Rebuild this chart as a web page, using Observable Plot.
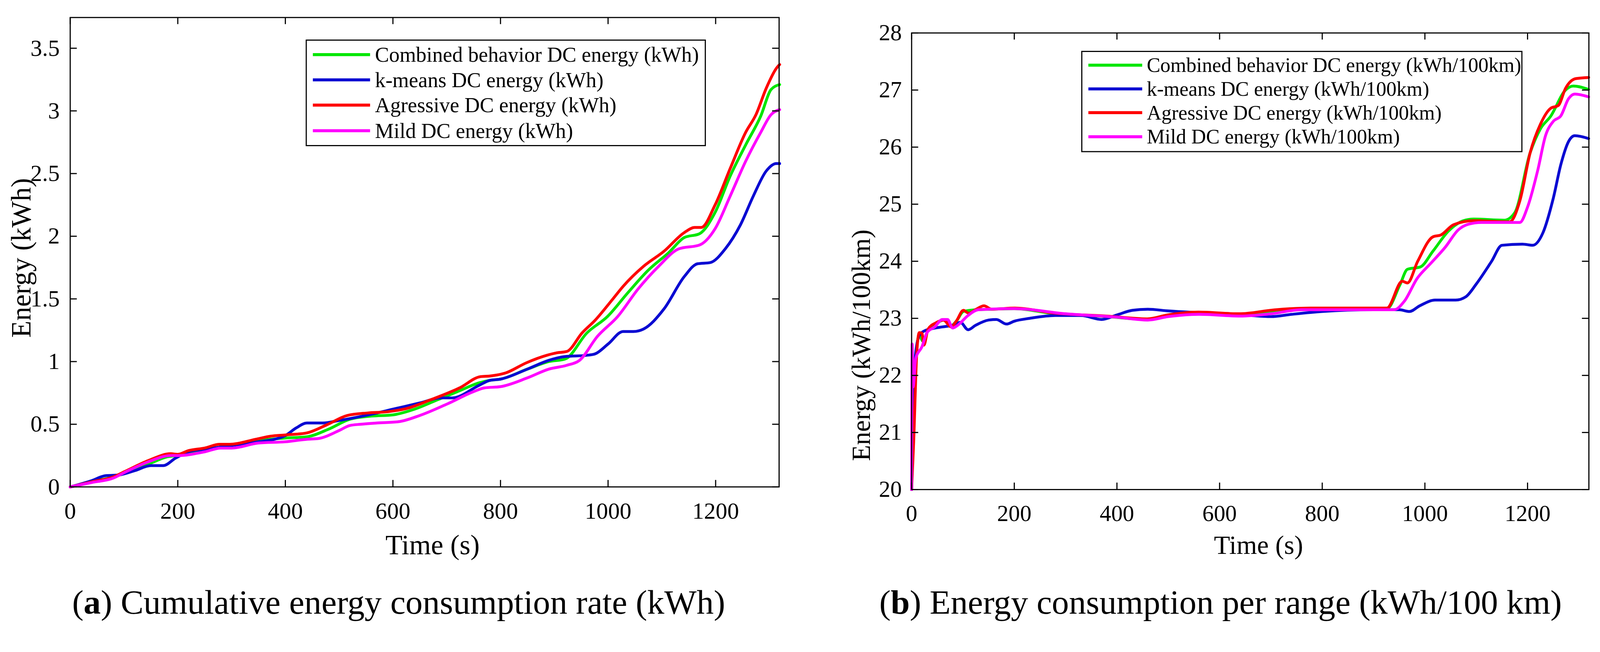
<!DOCTYPE html>
<html>
<head>
<meta charset="utf-8">
<script src="https://cdn.jsdelivr.net/npm/d3@7"></script>
<script src="https://cdn.jsdelivr.net/npm/@observablehq/plot@0.6"></script>
<style>
  html, body { margin: 0; padding: 0; background: #fff; overflow: hidden; }
  #page { position: relative; width: 4250px; height: 1668px; overflow: hidden; background: #fff;
          font-family: "Liberation Serif", "Times New Roman", serif; color: #000; transform-origin: 0 0; }
  .panel { position: absolute; top: 0; }
  .panel svg { overflow: visible; }
  .legend { position: absolute; box-sizing: border-box; border: 3px solid #000; background: #fff; }
  .sw { position: absolute; height: 7.5px; }
  .lt { position: absolute; white-space: nowrap; line-height: 1; }
  .caption { position: absolute; top: 1553px; font-size: 91px; line-height: 1; white-space: nowrap;
             transform: translateX(-50%); font-family: "Liberation Serif", "Times New Roman", serif; }
</style>
</head>
<body>
<div id="page"></div>
<script>
// ---------------- data ----------------
const seriesKeys = ["combined", "kmeans", "aggressive", "mild"];
const seriesColors = ["#00e600", "#0a0ad2", "#ff0000", "#ff00ff"];
const legendLabelsA = ["Combined behavior DC energy (kWh)", "k-means DC energy (kWh)", "Agressive DC energy (kWh)", "Mild DC energy (kWh)"];
const legendLabelsB = ["Combined behavior DC energy (kWh/100km)", "k-means DC energy (kWh/100km)", "Agressive DC energy (kWh/100km)", "Mild DC energy (kWh/100km)"];

const xTicks = [0, 200, 400, 600, 800, 1000, 1200];
const yTicksA = [0, 0.5, 1, 1.5, 2, 2.5, 3, 3.5];
const yTicksB = [20, 21, 22, 23, 24, 25, 26, 27, 28];

// (a) cumulative energy (kWh)
const cumTimeCombined = [0, 40, 80, 110, 150, 180, 200, 250, 280, 300, 350, 400, 440, 480, 520, 560, 600, 640, 680, 720, 760, 780, 800, 850, 890, 920, 961, 999, 1037, 1075, 1113, 1142, 1170, 1199, 1227, 1256, 1284, 1303, 1319];
const cumCombined = [0, 0.04, 0.08, 0.12, 0.19, 0.24, 0.25, 0.29, 0.32, 0.335, 0.37, 0.39, 0.40, 0.46, 0.54, 0.565, 0.575, 0.62, 0.69, 0.76, 0.83, 0.85, 0.86, 0.94, 1.0, 1.02, 1.23, 1.36, 1.55, 1.73, 1.87, 1.99, 2.02, 2.19, 2.48, 2.73, 2.96, 3.17, 3.21];

const cumTimeKmeans = [0, 40, 66, 90, 120, 150, 173, 196, 220, 250, 300, 350, 380, 400, 420, 440, 470, 500, 560, 600, 650, 690, 710, 760, 780, 800, 850, 890, 920, 960, 975, 1000, 1028, 1047, 1066, 1104, 1142, 1166, 1190, 1218, 1246, 1270, 1294, 1313, 1319];
const cumKmeans = [0, 0.05, 0.09, 0.095, 0.13, 0.17, 0.17, 0.23, 0.28, 0.30, 0.33, 0.36, 0.38, 0.41, 0.47, 0.51, 0.51, 0.53, 0.58, 0.62, 0.67, 0.71, 0.71, 0.81, 0.85, 0.86, 0.94, 1.01, 1.04, 1.05, 1.06, 1.14, 1.24, 1.24, 1.26, 1.42, 1.68, 1.78, 1.79, 1.90, 2.09, 2.32, 2.52, 2.58, 2.58];

const cumTimeAggressive = [0, 40, 80, 103, 145, 187, 200, 220, 250, 278, 297, 345, 373, 401, 439, 477, 515, 553, 591, 629, 667, 724, 763, 781, 810, 848, 886, 905, 923, 952, 976, 1009, 1028, 1066, 1104, 1142, 1161, 1173, 1199, 1227, 1256, 1275, 1294, 1313, 1319];
const cumAggressive = [0, 0.04, 0.08, 0.126, 0.21, 0.265, 0.26, 0.29, 0.31, 0.34, 0.34, 0.38, 0.405, 0.415, 0.43, 0.495, 0.57, 0.59, 0.60, 0.63, 0.69, 0.79, 0.88, 0.885, 0.91, 0.99, 1.05, 1.07, 1.08, 1.23, 1.33, 1.50, 1.60, 1.76, 1.88, 2.03, 2.07, 2.07, 2.25, 2.54, 2.83, 2.97, 3.18, 3.34, 3.37];

const cumTimeMild = [0, 40, 80, 103, 145, 187, 200, 250, 280, 300, 350, 400, 440, 460, 500, 520, 540, 570, 610, 650, 700, 750, 770, 800, 850, 890, 923, 947, 980, 1018, 1056, 1094, 1132, 1170, 1199, 1227, 1256, 1284, 1303, 1319];
const cumMild = [0, 0.035, 0.07, 0.12, 0.20, 0.25, 0.25, 0.28, 0.31, 0.31, 0.35, 0.36, 0.38, 0.385, 0.45, 0.49, 0.50, 0.51, 0.52, 0.57, 0.66, 0.76, 0.79, 0.80, 0.87, 0.94, 0.97, 1.01, 1.20, 1.36, 1.58, 1.76, 1.90, 1.93, 2.06, 2.32, 2.60, 2.83, 2.97, 3.01];

// (b) energy per range (kWh/100km)
const rateTimeCombined = [0, 3, 8, 15, 22, 32, 47, 62, 77, 87, 101, 126, 156, 200, 280, 380, 459, 499, 559, 638, 708, 777, 926, 951, 966, 991, 1016, 1046, 1075, 1095, 1155, 1175, 1205, 1225, 1245, 1274, 1289, 1319];
const rateCombined = [20, 21.2, 22.3, 22.7, 22.6, 22.8, 22.9, 22.97, 22.87, 22.95, 23.12, 23.15, 23.16, 23.17, 23.08, 23.03, 22.98, 23.04, 23.09, 23.07, 23.13, 23.17, 23.17, 23.58, 23.86, 23.9, 24.18, 24.53, 24.71, 24.74, 24.72, 24.85, 25.9, 26.32, 26.54, 27.0, 27.07, 27.01];

const rateTimeKmeans = [0, 3, 8, 15, 25, 40, 60, 80, 95, 110, 125, 150, 165, 185, 200, 230, 280, 330, 370, 400, 430, 460, 500, 560, 620, 660, 700, 740, 800, 900, 950, 970, 990, 1020, 1060, 1080, 1100, 1130, 1150, 1190, 1210, 1230, 1250, 1265, 1280, 1292, 1319];
const rateKmeans = [20, 21.5, 22.4, 22.7, 22.78, 22.82, 22.85, 22.88, 22.93, 22.8, 22.88, 22.97, 22.98, 22.9, 22.95, 23.0, 23.05, 23.05, 22.98, 23.06, 23.14, 23.16, 23.13, 23.1, 23.08, 23.05, 23.03, 23.07, 23.12, 23.15, 23.15, 23.12, 23.22, 23.32, 23.32, 23.38, 23.6, 24.0, 24.28, 24.3, 24.28, 24.5, 25.1, 25.7, 26.1, 26.2, 26.15];

const rateTimeAggressive = [0, 4, 10, 15, 20, 24, 32, 47, 62, 77, 87, 101, 111, 126, 141, 156, 201, 280, 380, 459, 499, 559, 638, 708, 777, 926, 956, 966, 986, 1016, 1031, 1056, 1095, 1165, 1185, 1205, 1225, 1245, 1260, 1274, 1294, 1319];
const rateAggressive = [20, 20.84, 22.39, 22.75, 22.74, 22.53, 22.81, 22.92, 22.97, 22.85, 22.95, 23.14, 23.09, 23.16, 23.22, 23.16, 23.18, 23.09, 23.04, 22.99, 23.06, 23.11, 23.08, 23.15, 23.18, 23.18, 23.65, 23.62, 24.0, 24.43, 24.46, 24.64, 24.71, 24.69, 25.06, 25.9, 26.4, 26.68, 26.73, 27.03, 27.2, 27.22];

const rateTimeMild = [0, 1, 3, 8, 20, 30, 45, 60, 70, 80, 90, 110, 130, 200, 300, 400, 460, 500, 560, 640, 700, 760, 940, 960, 985, 1010, 1040, 1065, 1085, 1110, 1185, 1200, 1220, 1235, 1250, 1265, 1280, 1292, 1319];
const rateMild = [20, 22.55, 21.8, 22.3, 22.5, 22.75, 22.85, 22.98, 22.98, 22.83, 22.88, 23.05, 23.15, 23.17, 23.08, 23.02, 22.97, 23.03, 23.07, 23.04, 23.08, 23.15, 23.15, 23.3, 23.7, 23.95, 24.25, 24.55, 24.65, 24.68, 24.68, 24.95, 25.6, 26.2, 26.45, 26.55, 26.85, 26.93, 26.88];

// ---------------- build ----------------
function toRows(times, values) {
  const out = [];
  times.forEach((ts, k) => ts.forEach((t, i) => out.push({s: seriesKeys[k], t, v: values[k][i]})));
  return out;
}

const page = document.getElementById("page");
const PAGE_W = 4250;
const PANEL_W = 2125, SVG_H = 1520;

function fitPage() {
  const vw = document.documentElement.clientWidth || window.innerWidth || PAGE_W;
  const s = vw / PAGE_W;
  page.style.transform = Math.abs(s - 1) > 0.001 ? `scale(${s})` : "none";
}
fitPage();
window.addEventListener("resize", fitPage);

function panel(cfg) {
  const mt = cfg.frame.top, mb = SVG_H - cfg.frame.bottom;
  const ml = cfg.frame.left - cfg.offset, mr = cfg.offset + PANEL_W - cfg.frame.right;
  const innerH = SVG_H - mt - mb, innerW = PANEL_W - ml - mr;
  const T = 18;
  const chart = Plot.plot({
    width: PANEL_W, height: SVG_H,
    marginTop: mt, marginBottom: mb, marginLeft: ml, marginRight: mr,
    style: {fontFamily: "Liberation Serif, Times New Roman, serif", background: "transparent", color: "#000", overflow: "visible"},
    x: {domain: cfg.xDomain},
    y: {domain: cfg.yDomain},
    color: {domain: seriesKeys, range: seriesColors},
    marks: [
      Plot.line(cfg.data, {x: "t", y: "v", z: "s", stroke: "s", strokeWidth: 7.5, curve: "monotone-x",
                           strokeLinejoin: "round", strokeLinecap: "round"}),
      Plot.frame({stroke: "#000", strokeWidth: 3}),
      Plot.tickX(xTicks, {x: d => d, insetTop: innerH - T, stroke: "#000", strokeWidth: 3}),
      Plot.tickX(xTicks, {x: d => d, insetBottom: innerH - T, stroke: "#000", strokeWidth: 3}),
      Plot.tickY(cfg.yTicks, {y: d => d, insetRight: innerW - T, stroke: "#000", strokeWidth: 3}),
      Plot.tickY(cfg.yTicks, {y: d => d, insetLeft: innerW - T, stroke: "#000", strokeWidth: 3}),
      Plot.axisX(xTicks, {tickSize: 0, tickPadding: 40, fontSize: cfg.tickFont, tickFormat: d => String(d), label: null}),
      Plot.axisY(cfg.yTicks, {tickSize: 0, tickPadding: cfg.yPad, fontSize: cfg.tickFont, tickFormat: d => String(d), label: null}),
      Plot.text([cfg.xLabel], {text: d => d, frameAnchor: "bottom", lineAnchor: "bottom", textAnchor: "middle",
                               dx: cfg.xLabelDx, dy: cfg.xLabelDy, fontSize: cfg.labelFont, fill: "#000"}),
      Plot.text([cfg.yLabel], {text: d => d, frameAnchor: "left", lineAnchor: "bottom", textAnchor: "middle", rotate: -90,
                               dx: cfg.yLabelDx, dy: cfg.yLabelDy, fontSize: cfg.labelFont, fill: "#000"})
    ]
  });
  const wrap = document.createElement("div");
  wrap.className = "panel";
  wrap.style.left = cfg.offset + "px";
  wrap.appendChild(chart);
  page.appendChild(wrap);

  // legend
  const lg = cfg.legend;
  const box = document.createElement("div");
  box.className = "legend";
  Object.assign(box.style, {left: lg.left + "px", top: lg.top + "px", width: lg.width + "px", height: lg.height + "px"});
  cfg.labels.forEach((name, i) => {
    const cy = lg.rows[i];
    const sw = document.createElement("div");
    sw.className = "sw";
    Object.assign(sw.style, {left: lg.swLeft + "px", width: lg.swWidth + "px", top: (cy - 3.75 - 3) + "px", background: seriesColors[i]});
    const tx = document.createElement("div");
    tx.className = "lt";
    tx.textContent = name;
    Object.assign(tx.style, {left: lg.textLeft + "px", top: (cy - lg.font / 2 - 3) + "px", fontSize: lg.font + "px"});
    box.appendChild(sw);
    box.appendChild(tx);
  });
  page.appendChild(box);

  // caption
  const cap = document.createElement("div");
  cap.className = "caption";
  cap.style.left = cfg.caption.center + "px";
  cap.innerHTML = "(<b>" + cfg.caption.letter + "</b>) ";
  cap.appendChild(document.createTextNode(cfg.caption.text));
  page.appendChild(cap);
}

panel({
  offset: 0,
  frame: {left: 186, right: 2069, top: 46, bottom: 1292},
  xDomain: [0, 1318], yDomain: [0, 3.745], yTicks: yTicksA,
  data: toRows([cumTimeCombined, cumTimeKmeans, cumTimeAggressive, cumTimeMild], [cumCombined, cumKmeans, cumAggressive, cumMild]),
  tickFont: 62, labelFont: 74, yPad: 28,
  xLabel: "Time (s)", xLabelDx: 21, xLabelDy: 179,
  yLabel: "Energy (kWh)", yLabelDx: -106, yLabelDy: 15,
  labels: legendLabelsA,
  legend: {left: 812, top: 105, width: 1063, height: 283, rows: [40, 107, 174, 242], swLeft: 16, swWidth: 152, textLeft: 181, font: 56},
  caption: {center: 1059, letter: "a", text: "Cumulative energy consumption rate (kWh)"}
});

panel({
  offset: 2125,
  frame: {left: 2421, right: 4220, top: 87, bottom: 1299},
  xDomain: [0, 1319.5], yDomain: [20, 28], yTicks: yTicksB,
  data: toRows([rateTimeCombined, rateTimeKmeans, rateTimeAggressive, rateTimeMild], [rateCombined, rateKmeans, rateAggressive, rateMild]),
  tickFont: 61, labelFont: 70, yPad: 26,
  xLabel: "Time (s)", xLabelDx: 22, xLabelDy: 171,
  yLabel: "Energy (kWh/100km)", yLabelDx: -111, yLabelDy: 223,
  labels: legendLabelsB,
  legend: {left: 2872, top: 135, width: 1172, height: 269, rows: [38, 101, 164, 228], swLeft: 16, swWidth: 143, textLeft: 171, font: 54},
  caption: {center: 3242, letter: "b", text: "Energy consumption per range (kWh/100 km)"}
});
</script>
</body>
</html>
